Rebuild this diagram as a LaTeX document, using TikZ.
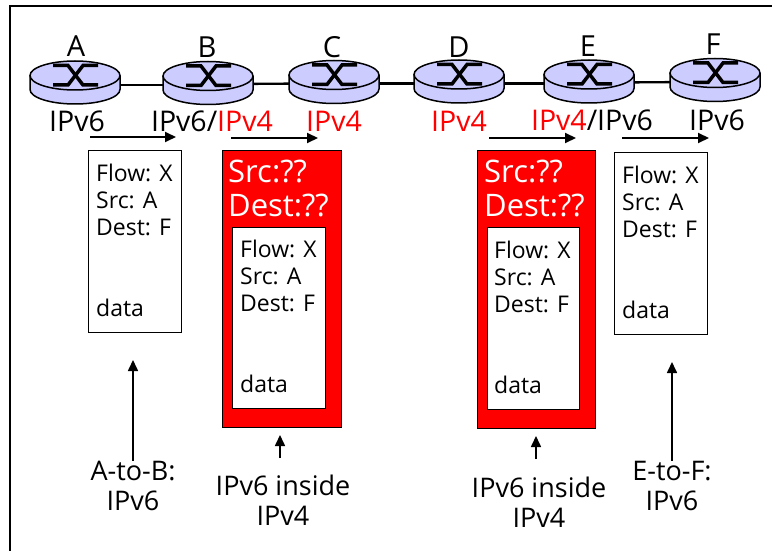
\documentclass[tikz,border=0pt]{standalone}
\usepackage{fontspec}
\setmainfont{Open Sans}
\usetikzlibrary{arrows.meta}
\definecolor{routerblue}{HTML}{CCCCFF}
\tikzset{
  router/.pic={
    \draw[line width=1.5pt,fill=routerblue] (-45,0) -- (-45,14) arc[start angle=180,end angle=360,x radius=45pt,y radius=14.5pt] -- (45,0);
    \draw[line width=1.5pt,fill=routerblue] (0,0) ellipse[x radius=45pt,y radius=14.5pt];
    \draw[line width=3.5pt] (-22,-10) -- (-7,-10) -- (8,9.5) -- (23,9.5);
    \draw[line width=3.5pt] (-22,9.5) -- (-7,9.5) -- (8,-10) -- (23,-10);
  },
  link/.style={line width=2.4pt},
  flowarrow/.style={line width=2pt,-{Stealth[length=11pt,width=10pt,inset=0pt]}},
  rname/.style={font=\fontsize{29}{29}\selectfont,anchor=center,inner sep=0pt},
  proto/.style={font=\fontsize{28.5}{28.5}\selectfont,anchor=center,inner sep=0pt},
  outerbox/.style={draw=black,line width=1.2pt,fill=white,anchor=north west,inner sep=0pt},
  redbox/.style={draw=black,line width=1.2pt,fill=red,anchor=north west,inner sep=0pt},
  packet/.style={font=\fontsize{23}{27}\selectfont,align=left,anchor=north west,inner sep=0pt},
  redhead/.style={font=\fontsize{31}{34}\selectfont,text=white,align=left,anchor=north west,inner sep=0pt},
  note/.style={font=\fontsize{27}{30.5}\selectfont,align=center,anchor=center,inner sep=0pt},
}
\begin{document}
\begin{tikzpicture}[x=1pt,y=-1pt]
\useasboundingbox (0,0) rectangle (772,551);
\fill[white] (0,0) rectangle (772,551);
% frame
\draw[line width=2pt] (10,551) -- (10,6) -- (772,6);
% router positions
\coordinate (ra) at (75,75.5);
\coordinate (rb) at (208,76);
\coordinate (rc) at (334,75);
\coordinate (rd) at (459,74.5);
\coordinate (re) at (589,74.5);
\coordinate (rf) at (715,73);
% links
\draw[link] ([yshift=-9.5pt]ra) -- ([yshift=-9pt]rb);
\draw[link] ([yshift=-8pt]rb) -- ([yshift=-8.5pt]rc);
\draw[link] ([yshift=-8.5pt]rc) -- ([yshift=-9pt]rd);
\draw[link] ([yshift=-9pt]rd) -- ([yshift=-9pt]re);
\draw[link] ([yshift=-8pt]re) -- ([yshift=-9pt]rf);
\pic at (ra) {router};
\pic at (rb) {router};
\pic at (rc) {router};
\pic at (rd) {router};
\pic at (re) {router};
\pic at (rf) {router};
% router names
\node[rname] (na) at (76,46) {A};
\node[rname] (nb) at (207,47) {B};
\node[rname] (nc) at (332,47) {C};
\node[rname] (nd) at (459,47) {D};
\node[rname] (ne) at (588,46) {E};
\node[rname] (nf) at (713,44) {F};
% protocols
\node[proto] (pa) at (77,121) {IPv6};
\node[proto] (pb) at (212,121) {IPv6/\textcolor{red}{IPv4}};
\node[proto,text=red] (pc) at (334,121) {IPv4};
\node[proto,text=red] (pd) at (459,121) {IPv4};
\node[proto] (pe) at (592,120) {\textcolor{red}{IPv4}/IPv6};
\node[proto] (pf) at (717,120) {IPv6};
% flow arrows
\coordinate (f1a) at (90,137);  \coordinate (f1b) at (176,137);
\coordinate (f2a) at (231,138); \coordinate (f2b) at (318,138);
\coordinate (f3a) at (489,138); \coordinate (f3b) at (576,138);
\coordinate (f4a) at (622,138); \coordinate (f4b) at (709,138);
\draw[flowarrow] (f1a) -- (f1b);
\draw[flowarrow] (f2a) -- (f2b);
\draw[flowarrow] (f3a) -- (f3b);
\draw[flowarrow] (f4a) -- (f4b);
% packets
\node[outerbox,minimum width=93pt,minimum height=182pt] (b1) at (88,150) {};
\node[redbox,minimum width=119pt,minimum height=277pt] (b2) at (222,150) {};
\node[outerbox,minimum width=93pt,minimum height=181pt] (b2i) at (232,227) {};
\node[redbox,minimum width=118pt,minimum height=278pt] (b3) at (477,150) {};
\node[outerbox,minimum width=92pt,minimum height=182pt] (b3i) at (487,227) {};
\node[outerbox,minimum width=93pt,minimum height=182pt] (b4) at (614,152) {};
\node[packet] (t1) at (96,164) {Flow: X\\Src: A\\Dest: F\\[54pt]data};
\node[packet] (t2) at (240,240) {Flow: X\\Src: A\\Dest: F\\[54pt]data};
\node[packet] (t3) at (494,241) {Flow: X\\Src: A\\Dest: F\\[54pt]data};
\node[packet] (t4) at (622,166) {Flow: X\\Src: A\\Dest: F\\[54pt]data};
\node[redhead] (h2) at (228,160) {Src:??\\Dest:??};
\node[redhead] (h3) at (484,160) {Src:??\\Dest:??};
% notes
\node[note] (n1) at (133,486) {A-to-B:\\IPv6};
\node[note] (n2) at (283,500) {IPv6 inside\\IPv4};
\node[note] (n3) at (539,502) {IPv6 inside\\IPv4};
\node[note] (n4) at (672,486) {E-to-F:\\IPv6};
\coordinate (a1) at (133,360);
\coordinate (a2) at (280,435);
\coordinate (a3) at (536,436);
\coordinate (a4) at (672,362);
\draw[flowarrow,line width=1.6pt] (n1.north -| a1) -- (a1);
\draw[flowarrow,line width=1.6pt] (280,458) -- (a2);
\draw[flowarrow,line width=1.6pt] (536,459) -- (a3);
\draw[flowarrow,line width=1.6pt] (n4.north -| a4) -- (a4);
\end{tikzpicture}
\end{document}
